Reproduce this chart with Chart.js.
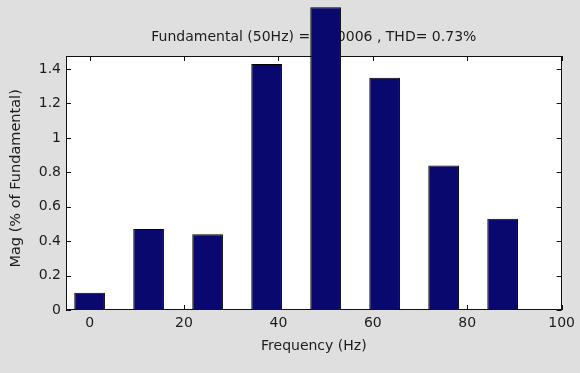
<!DOCTYPE html>
<html>
<head>
<meta charset="utf-8">
<script src="https://cdn.jsdelivr.net/npm/chart.js@4/dist/chart.umd.min.js"></script>
<style>
  html, body { margin: 0; padding: 0; background: #dfdfdf; }
  canvas { display: block; }
</style>
</head>
<body>
<canvas id="c" width="580" height="373"></canvas>
<script>
// ---- data ----
const freqs = [0, 12.5, 25, 37.5, 50, 62.5, 75, 87.5];
const mags = [0.10, 0.47, 0.44, 1.43, 1.76, 1.35, 0.84, 0.53];
const xTickValues = [0, 20, 40, 60, 80, 100];
const xTickLabels = ['0', '20', '40', '60', '80', '100'];
const yTickValues = [0, 0.2, 0.4, 0.6, 0.8, 1, 1.2, 1.4];
const yTickLabels = ['0', '0.2', '0.4', '0.6', '0.8', '1', '1.2', '1.4'];
const titleText = 'Fundamental (50Hz) = 0.00006 , THD= 0.73%';
const xTitle = 'Frequency (Hz)';
const yTitle = '  Mag (% of Fundamental)';

Chart.defaults.font.family = 'DejaVu Sans';
Chart.defaults.font.size = 14;
Chart.defaults.color = '#1c1c1c';

const TICK = 5;
const framePlugin = {
  id: 'frame',
  beforeDraw(chart) {
    const {ctx, chartArea: a} = chart;
    ctx.save();
    ctx.fillStyle = '#dfdfdf';
    ctx.fillRect(0, 0, chart.width, chart.height);
    ctx.fillStyle = '#ffffff';
    ctx.fillRect(a.left, a.top, a.right - a.left, a.bottom - a.top);
    ctx.restore();
  },
  beforeDatasetsDraw(chart) {
    const {ctx, chartArea: a, scales} = chart;
    ctx.save();
    ctx.strokeStyle = '#111111';
    ctx.lineWidth = 1;
    ctx.strokeRect(Math.round(a.left) + 0.5, Math.round(a.top) + 0.5,
                   Math.round(a.right - a.left) - 1, Math.round(a.bottom - a.top) - 1);
    ctx.beginPath();
    xTickValues.forEach(v => {
      const px = Math.round(scales.x.getPixelForValue(v)) + 0.5;
      ctx.moveTo(px, a.bottom); ctx.lineTo(px, a.bottom - TICK);
      ctx.moveTo(px, a.top); ctx.lineTo(px, a.top + TICK);
    });
    yTickValues.forEach(v => {
      const py = Math.round(scales.y.getPixelForValue(v)) + 0.5;
      ctx.moveTo(a.left, py); ctx.lineTo(a.left + TICK, py);
      ctx.moveTo(a.right, py); ctx.lineTo(a.right - TICK, py);
    });
    ctx.stroke();
    ctx.restore();
  }
};

new Chart(document.getElementById('c'), {
  type: 'bar',
  data: {
    datasets: [{
      data: freqs.map((f, i) => ({x: f, y: mags[i]})),
      backgroundColor: '#08086e',
      borderColor: '#000000',
      borderWidth: 1,
      barPercentage: 0.52,
      categoryPercentage: 1,
      clip: false
    }]
  },
  options: {
    responsive: false,
    animation: false,
    layout: { padding: { left: 0, right: 15, top: 0, bottom: 0 } },
    plugins: {
      legend: { display: false },
      tooltip: { enabled: false },
      title: {
        display: true,
        text: titleText,
        fullSize: false,
        color: '#1c1c1c',
        font: { size: 14, weight: 'normal', family: 'DejaVu Sans' },
        padding: { top: 29, bottom: 10.2 }
      }
    },
    scales: {
      x: {
        type: 'linear',
        min: -5,
        max: 100,
        offset: false,
        grid: { display: false, drawTicks: false },
        border: { display: false },
        afterBuildTicks: s => { s.ticks = xTickValues.map(v => ({value: v})); },
        afterFit: s => { s.height = 63; },
        ticks: {
          autoSkip: false,
          maxRotation: 0,
          padding: 5,
          callback: (v, i) => xTickLabels[i]
        },
        title: { display: true, text: xTitle, padding: { top: 0, bottom: 18.6 } }
      },
      y: {
        type: 'linear',
        min: 0,
        max: 1.476,
        grid: { display: false, drawTicks: false },
        border: { display: false },
        afterBuildTicks: s => { s.ticks = yTickValues.map(v => ({value: v})); },
        afterFit: s => { s.width = 66; },
        ticks: {
          autoSkip: false,
          padding: 5,
          callback: (v, i) => yTickLabels[i]
        },
        title: { display: true, text: yTitle, font: { size: 14.5 }, padding: { top: 8, bottom: 0 } }
      }
    }
  },
  plugins: [framePlugin]
});
</script>
</body>
</html>
